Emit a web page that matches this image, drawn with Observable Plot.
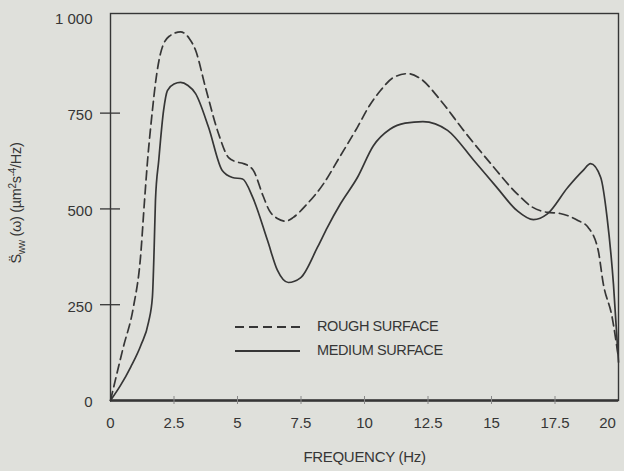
<!DOCTYPE html>
<html>
<head>
<meta charset="utf-8">
<script src="https://cdn.jsdelivr.net/npm/d3@7"></script>
<script src="https://cdn.jsdelivr.net/npm/@observablehq/plot@0.6"></script>
<style>
  html, body { margin: 0; padding: 0; background: #dfe0db; }
  #wrap { position: relative; width: 624px; height: 471px; overflow: hidden; font-family: "Liberation Sans", Arial, sans-serif; color: #363636; }
  #ylab { position: absolute; left: 17px; top: 203px; transform: translate(-50%, -50%) rotate(-90deg); white-space: nowrap; font-size: 14.5px; letter-spacing: -0.3px; }
  #ylab sub, #ylab sup { font-size: 10px; }
  #legend { position: absolute; left: 0; top: 0; }
  #legend div { position: absolute; font-size: 14.5px; letter-spacing: -0.4px; white-space: nowrap; }
</style>
</head>
<body>
<div id="wrap">
  <div id="chart"></div>
  <div id="ylab">S&#776;<sub>ww</sub> (ω) (µm<sup>2</sup>s<sup>-4</sup>/Hz)</div>
  <div id="legend"></div>
</div>
<script>
// Frequency (Hz) and PSD values
const roughFreq = [0, 0.5, 0.9, 1.18, 1.34, 1.46, 1.65, 1.77, 1.97, 2.3, 2.76, 3.1, 3.35, 3.74, 4.25, 4.65, 5.0, 5.2, 5.6, 6.0, 6.25, 6.57, 6.9, 7.2, 7.7, 8.39, 9.0, 9.72, 10.2, 10.63, 11.14, 11.7, 12.2, 13.0, 13.9, 14.96, 16.0, 16.6, 17.2, 17.7, 18.4, 18.8, 19.2, 19.4, 19.75, 20];
const roughValue = [0, 138, 243, 373, 522, 627, 757, 828, 906, 950, 962, 945, 914, 817, 697, 634, 622, 619, 603, 535, 496, 475, 468, 478, 510, 566, 633, 713, 770, 809, 843, 853, 840, 783, 705, 619, 540, 505, 491, 488, 470, 452, 392, 305, 217, 110];
const mediumFreq = [0, 0.4, 0.8, 1.2, 1.5, 1.65, 1.72, 1.77, 1.9, 2.09, 2.24, 2.5, 2.76, 3.05, 3.35, 3.86, 4.4, 4.8, 5.2, 5.6, 6.18, 6.57, 7.0, 7.48, 8.15, 8.54, 9.06, 9.72, 10.35, 11.0, 11.6, 12.3, 13.27, 14.3, 15.2, 16.0, 16.65, 17.2, 18.0, 18.6, 18.9, 19.3, 19.55, 19.8, 20];
const mediumValue = [0, 40, 88, 145, 205, 270, 400, 522, 627, 757, 809, 826, 830, 822, 801, 713, 600, 582, 578, 530, 418, 340, 308, 320, 400, 452, 514, 582, 665, 708, 724, 728, 705, 627, 557, 496, 472, 487, 556, 600, 618, 582, 478, 305, 100];
const xTicks = [0, 2.5, 5, 7.5, 10, 12.5, 15, 17.5, 20];
const xTickLabels = ["0", "2.5", "5", "7.5", "10", "12.5", "15", "17.5", "20"];
const yTicks = [0, 250, 500, 750, 1000];
const yTickLabels = ["0", "250", "500", "750", "1 000"];
const seriesNames = ["ROUGH SURFACE", "MEDIUM SURFACE"];

const rough = roughFreq.map((f, i) => ({f, v: roughValue[i]}));
const medium = mediumFreq.map((f, i) => ({f, v: mediumValue[i]}));
const ink = "#363636";
const xLab = (d) => xTickLabels[xTicks.indexOf(d)];

const chart = Plot.plot({
  width: 624,
  height: 471,
  marginLeft: 110,
  marginRight: 6,
  marginTop: 13,
  marginBottom: 71,
  style: {background: "#dfe0db", fontFamily: "'Liberation Sans', Arial, sans-serif", fontSize: "15px", color: ink},
  x: {domain: [0, 20]},
  y: {domain: [0, 1010]},
  marks: [
    Plot.frame({stroke: ink, strokeWidth: 1.4}),
    Plot.ruleY([0], {stroke: ink, strokeWidth: 2.5}),
    Plot.axisY({ticks: yTicks.slice(1, 4), tickSize: 20, dx: 10, tickFormat: () => "", stroke: ink, strokeWidth: 1.3, label: null}),
    Plot.axisY({ticks: yTicks, tickSize: 0, tickPadding: 18, dy: 2, tickFormat: (d) => yTickLabels[yTicks.indexOf(d)], label: null, fill: ink, letterSpacing: -0.8}),
    Plot.axisX({ticks: xTicks.slice(1, 8), tickSize: 8, dy: -4, tickFormat: () => "", stroke: "#888", label: null}),
    Plot.axisX({ticks: xTicks.slice(0, 8), tickSize: 0, tickPadding: 17, tickFormat: xLab, fill: ink, letterSpacing: -0.8,
      label: "FREQUENCY (Hz)", labelAnchor: "center", labelArrow: "none", labelOffset: 61}),
    Plot.axisX({ticks: xTicks.slice(8), tickSize: 0, tickPadding: 17, dx: -11, tickFormat: xLab, fill: ink, letterSpacing: -0.8, label: null}),
    Plot.line(rough, {x: "f", y: "v", curve: "monotone-x", stroke: ink, strokeWidth: 1.7, strokeDasharray: "9,5"}),
    Plot.line(medium, {x: "f", y: "v", curve: "monotone-x", stroke: ink, strokeWidth: 1.7})
  ]
});
document.getElementById("chart").appendChild(chart);
chart.querySelectorAll("g[aria-label='x-axis label'] text").forEach(t => { t.style.fontSize = "15px"; t.style.letterSpacing = "-0.3px"; });

// legend
const leg = document.getElementById("legend");
const svgNS = "http://www.w3.org/2000/svg";
const lsvg = document.createElementNS(svgNS, "svg");
lsvg.setAttribute("width", 624); lsvg.setAttribute("height", 471);
lsvg.style.position = "absolute"; lsvg.style.left = "0"; lsvg.style.top = "0";
[[327, "9,5"], [351, null]].forEach(([y, dash], i) => {
  const l = document.createElementNS(svgNS, "line");
  l.setAttribute("x1", 235); l.setAttribute("x2", 300);
  l.setAttribute("y1", y); l.setAttribute("y2", y);
  l.setAttribute("stroke", ink); l.setAttribute("stroke-width", 1.8);
  if (dash) l.setAttribute("stroke-dasharray", dash);
  lsvg.appendChild(l);
  const t = document.createElement("div");
  t.textContent = seriesNames[i];
  t.style.left = "317px"; t.style.top = (y - 9) + "px";
  leg.appendChild(t);
});
leg.appendChild(lsvg);
</script>
</body>
</html>
